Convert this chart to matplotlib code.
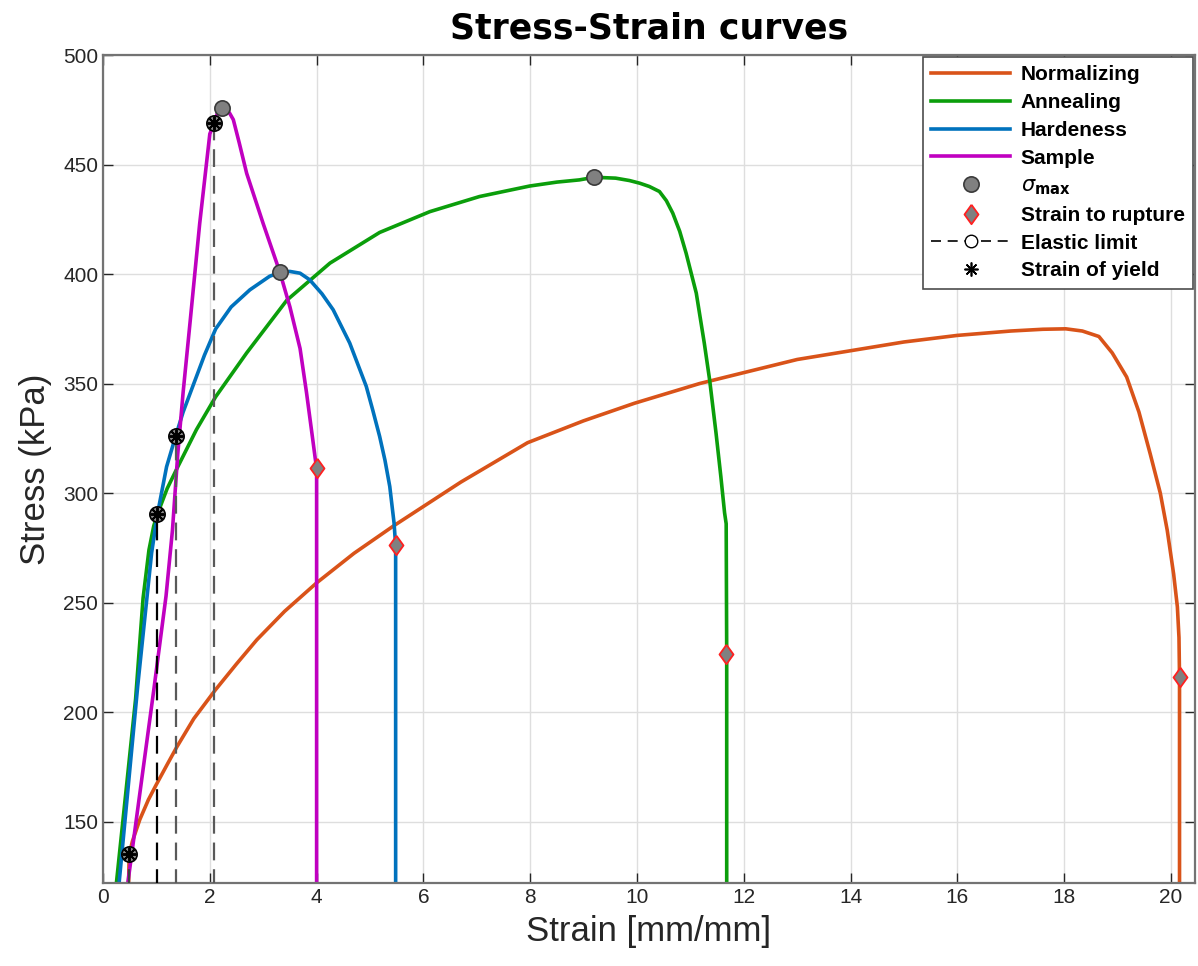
import numpy as np
import matplotlib.pyplot as plt
from matplotlib.lines import Line2D

plt.rcParams['font.family'] = ['Liberation Sans', 'DejaVu Sans']

# Normalizing curve (strain, stress)
norm_strain = [0.46, 0.49, 0.55, 0.69, 0.85, 1.00, 1.20, 1.38, 1.70, 2.10, 2.50, 2.88,
               3.40, 4.00, 4.70, 5.44, 6.70, 7.95, 9.00, 9.95, 11.17, 12.00, 13.00,
               14.00, 15.00, 16.00, 17.00, 17.60, 18.03, 18.34, 18.65, 18.90, 19.17,
               19.40, 19.61, 19.80, 19.93, 20.05, 20.12, 20.15, 20.16, 20.16]
norm_stress = [100, 135, 141, 151, 160, 167, 176, 184, 197, 210, 222, 233,
               246, 259, 272.5, 285, 305, 323, 333, 341, 350, 355, 361,
               365, 369, 372, 374, 374.8, 375, 374, 371.5, 364, 353,
               337, 318, 300, 283, 263, 248, 234, 216, 100]

# Annealing curve
ann_strain = [0.16, 0.255, 0.61, 0.75, 0.86, 0.95, 1.02, 1.20, 1.40, 1.75, 2.11, 2.69,
              3.44, 4.25, 5.18, 6.12, 7.05, 7.99, 8.50, 8.92, 9.20, 9.60, 9.86, 10.05,
              10.23, 10.42, 10.55, 10.67, 10.80, 10.92, 11.11, 11.26, 11.36, 11.48,
              11.57, 11.64, 11.67, 11.68, 11.68]
ann_stress = [100, 123, 206, 252, 274, 285, 290.5, 302, 312, 329, 344, 364,
              388, 405, 419, 428.5, 435.4, 440.2, 442, 443, 444.2, 443.8, 442.7, 441.5,
              440, 437.7, 433.5, 427.8, 419.5, 409.5, 391.3, 368.5, 351.7, 327.4,
              307.6, 291, 286, 226.7, 100]

# Hardeness curve
hard_strain = [0.21, 0.305, 0.65, 0.91, 1.02, 1.19, 1.36, 1.50, 1.70, 1.90, 2.11, 2.40,
               2.75, 3.12, 3.32, 3.50, 3.69, 3.87, 4.10, 4.31, 4.62, 4.93, 5.05, 5.18,
               5.28, 5.37, 5.45, 5.48, 5.48]
hard_stress = [100, 123, 212, 272.7, 290.5, 312, 326, 337, 350, 363, 375, 385,
               392.8, 399, 400.8, 401.2, 400.4, 397.4, 391, 383.7, 368.5, 348.7, 338, 325.9,
               315, 303, 286.4, 276, 100]

# Sample curve
samp_strain = [0.36, 0.47, 0.69, 0.95, 1.18, 1.30, 1.40, 1.50, 1.63, 1.81, 2.00, 2.08,
               2.15, 2.22, 2.30, 2.37, 2.44, 2.55, 2.69, 3.00, 3.31, 3.50, 3.69, 3.81,
               3.93, 4.00, 4.00]
samp_stress = [100, 123, 163, 210, 253, 283, 318, 346, 378, 423, 464, 469,
               474, 476, 475.5, 473.5, 470.5, 460, 446, 423, 401, 385, 366, 346,
               324, 311, 100]

# Characteristic points
max_strain = [2.22, 3.32, 9.20]
max_stress = [475.7, 401.1, 444.2]
rupture_strain = [4.00, 5.48, 11.67, 20.17]
rupture_stress = [311.4, 276.3, 226.7, 216.0]
elastic_strain = [0.49, 1.02, 1.37, 2.08]
elastic_stress = [135, 290.5, 326, 469]

fig = plt.figure(figsize=(11.98, 9.66), dpi=100)
ax = fig.add_axes([0.086, 0.086, 0.9115, 0.857])

lw = 2.6
h_norm, = ax.plot(norm_strain, norm_stress, color='#D95319', lw=lw, label='Normalizing')
h_ann, = ax.plot(ann_strain, ann_stress, color='#0B9E0B', lw=lw, label='Annealing')
h_hard, = ax.plot(hard_strain, hard_stress, color='#0072BD', lw=lw, label='Hardeness')
h_samp, = ax.plot(samp_strain, samp_stress, color='#C000C0', lw=lw, label='Sample')

# dashed drop lines for the elastic limit
dash_colors = ['0.25', 'k', '0.35', '0.35']
for x, y, c in zip(elastic_strain, elastic_stress, dash_colors):
    ax.plot([x, x], [0, y], color=c, lw=1.6, dashes=(8, 4), zorder=3)

diamond = [(0, 1), (0.72, 0), (0, -1), (-0.72, 0), (0, 1)]
h_max, = ax.plot(max_strain, max_stress, ls='none', marker='o', ms=11,
                 mfc='#808080', mec='#3a3a3a', mew=1.2, zorder=5, label=r'$\sigma_{\mathbf{max}}$')
h_rup, = ax.plot(rupture_strain, rupture_stress, ls='none', marker=diamond, ms=14,
                 mfc='#808080', mec='#FF2020', mew=1.3, zorder=5, label='Strain to rupture')
ax.plot(elastic_strain, elastic_stress, ls='none', marker='o', ms=11,
        mfc='0.55', mec='k', mew=1.2, zorder=6)
ax.plot(elastic_strain, elastic_stress, ls='none', marker=(8, 2, 0), ms=10,
        color='k', mew=1.4, zorder=7)

h_el = Line2D([], [], color='k', lw=1.2, dashes=(6, 4), marker='o', ms=9,
              mfc='white', mec='k', label='Elastic limit')
h_yield = Line2D([], [], ls='none', marker=(8, 2, 0), ms=10, color='k', mew=1.2,
                 label='Strain of yield')

ax.set_xlim(0, 20.45)
ax.set_ylim(122, 500)
ax.set_xticks(np.arange(0, 21, 2))
ax.set_yticks(np.arange(150, 501, 50))
ax.grid(True, color='0.87', lw=1)
ax.set_axisbelow(True)
ax.tick_params(direction='in', length=7, width=1, top=True, right=True,
               labelsize=15, colors='0.15')
for sp in ax.spines.values():
    sp.set_color('0.45')
    sp.set_linewidth(1.6)

ax.set_xlabel('Strain [mm/mm]', fontsize=25, color='0.15', labelpad=6)
ax.set_ylabel('Stress (kPa)', fontsize=25, color='0.15', labelpad=8)
ax.set_title('Stress-Strain curves', fontsize=25, fontweight='bold',
             family='DejaVu Sans', pad=12)

leg = ax.legend(handles=[h_norm, h_ann, h_hard, h_samp, h_max, h_rup, h_el, h_yield],
                loc='upper right', borderaxespad=0.1, fancybox=False, framealpha=1,
                edgecolor='0.3', handlelength=3.8, handletextpad=0.5, labelspacing=0.42,
                borderpad=0.4, numpoints=1, prop={'weight': 'bold', 'size': 15})
leg.get_frame().set_linewidth(1.2)

fig.savefig('out.png', dpi=100)
